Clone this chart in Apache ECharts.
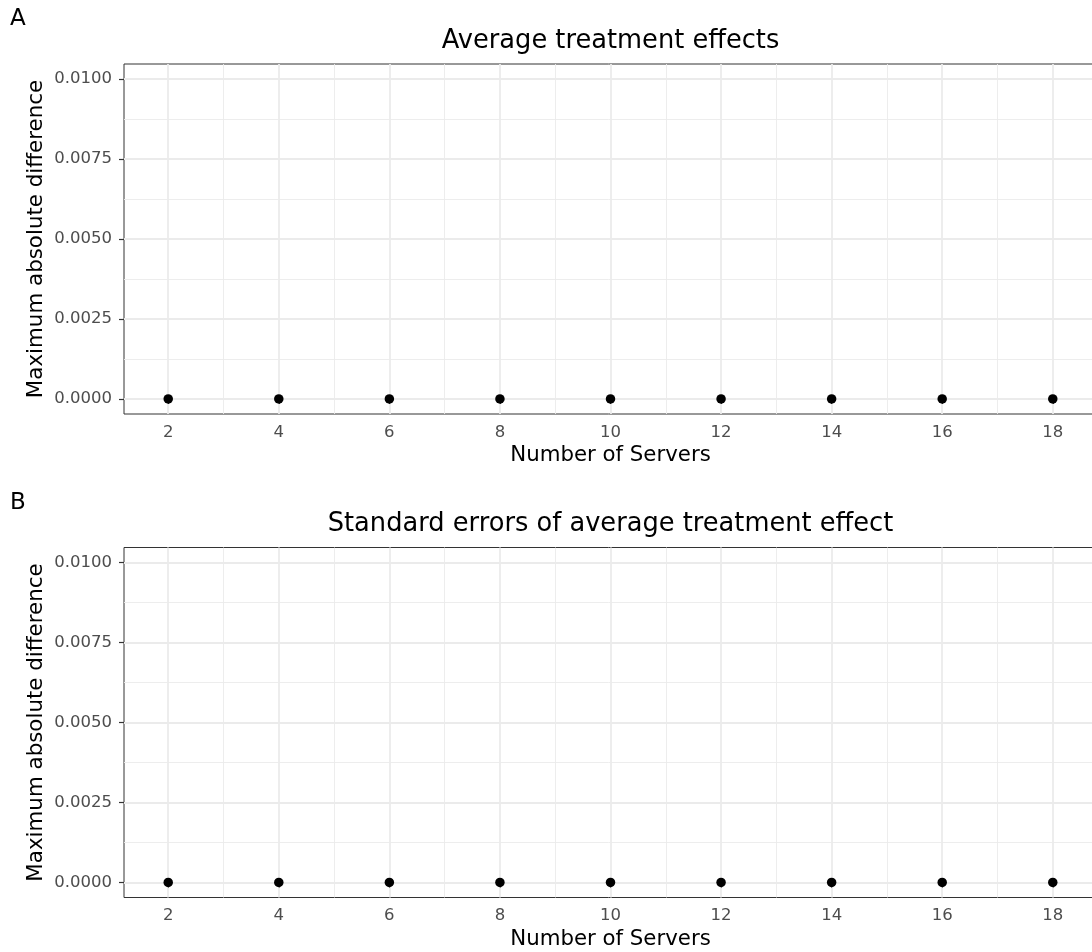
<!DOCTYPE html>
<html>
<head>
<meta charset="utf-8">
<script src="https://cdn.jsdelivr.net/npm/echarts@6/dist/echarts.min.js"></script>
<style>
  html, body { margin: 0; padding: 0; background: #fff; }
  #chart { width: 1092px; height: 952px; }
</style>
</head>
<body>
<div id="chart"></div>
<script>
// data
const servers = [2, 4, 6, 8, 10, 12, 14, 16, 18]
const ateDiff = [0, 0, 0, 0, 0, 0, 0, 0, 0]
const seDiff = [0, 0, 0, 0, 0, 0, 0, 0, 0]

// ticks
const xTicks = [2, 4, 6, 8, 10, 12, 14, 16, 18]
const xMinor = [3, 5, 7, 9, 11, 13, 15, 17]
const yTicks = [0, 0.0025, 0.005, 0.0075, 0.01]
const yMinor = [0.00125, 0.00375, 0.00625, 0.00875]

const panelTitles = ['Average treatment effects', 'Standard errors of average treatment effect']
const tags = ['A', 'B']
const panelData = [ateDiff, seDiff]

const FONT = 'DejaVu Sans'
const panelTops = [64, 547.5]
const panelLeft = 124
const panelWidth = 973
const panelHeight = 350

const grid = []
const xAxis = []
const yAxis = []
const series = []
const title = []

panelTops.forEach((top, i) => {
  grid.push({
    left: panelLeft,
    top,
    width: panelWidth,
    height: panelHeight,
    outerBoundsMode: 'none',
    show: true,
    borderColor: '#333333',
    borderWidth: 1,
    backgroundColor: 'transparent'
  })

  // 主刻度轴
  xAxis.push({
    type: 'value',
    gridIndex: i,
    min: 1.2,
    max: 18.8,
    name: 'Number of Servers',
    nameLocation: 'middle',
    nameGap: 31,
    nameMoveOverlap: false,
    nameTextStyle: { fontFamily: FONT, fontSize: 21.3, color: '#000' },
    axisLine: { show: false },
    axisTick: { show: true, length: 5, customValues: xTicks, lineStyle: { color: '#333', width: 1.2 } },
    axisLabel: { customValues: xTicks, margin: 10, fontFamily: FONT, fontSize: 16.5, color: '#4D4D4D' },
    splitLine: { show: true, lineStyle: { color: '#EBEBEB', width: 1.8 } }
  })
  // 次网格线
  xAxis.push({
    type: 'value',
    gridIndex: i,
    min: 1.2,
    max: 18.8,
    axisLine: { show: false },
    axisTick: { show: false, customValues: xMinor },
    axisLabel: { show: false, customValues: xMinor },
    splitLine: { show: true, lineStyle: { color: '#EBEBEB', width: 0.9 } }
  })

  yAxis.push({
    type: 'value',
    gridIndex: i,
    min: -0.00047,
    max: 0.01047,
    name: 'Maximum absolute difference',
    nameLocation: 'middle',
    nameGap: 77,
    nameMoveOverlap: false,
    nameTextStyle: { fontFamily: FONT, fontSize: 21.4, color: '#000' },
    axisLine: { show: false },
    axisTick: { show: true, length: 5, customValues: yTicks, lineStyle: { color: '#333', width: 1.2 } },
    axisLabel: {
      customValues: yTicks,
      margin: 12,
      fontFamily: FONT,
      fontSize: 16.5,
      color: '#4D4D4D',
      formatter: v => v.toFixed(4)
    },
    splitLine: { show: true, lineStyle: { color: '#EBEBEB', width: 1.8 } }
  })
  yAxis.push({
    type: 'value',
    gridIndex: i,
    min: -0.00047,
    max: 0.01047,
    axisLine: { show: false },
    axisTick: { show: false, customValues: yMinor },
    axisLabel: { show: false, customValues: yMinor },
    splitLine: { show: true, lineStyle: { color: '#EBEBEB', width: 0.9 } }
  })

  series.push({
    type: 'scatter',
    xAxisIndex: i * 2,
    yAxisIndex: i * 2,
    symbolSize: 9.5,
    itemStyle: { color: '#000', opacity: 1 },
    data: servers.map((s, k) => [s, panelData[i][k]]),
    z: 5
  })

  title.push({
    text: panelTitles[i],
    left: panelLeft + panelWidth / 2,
    textAlign: 'center',
    top: top - 36,
    padding: 0,
    textStyle: { fontFamily: FONT, fontSize: 25.7, fontWeight: 'normal', color: '#000' }
  })
  title.push({
    text: tags[i],
    left: 10,
    top: top - 56,
    padding: 0,
    textStyle: { fontFamily: FONT, fontSize: 23, fontWeight: 'normal', color: '#000' }
  })
})

const myChart = echarts.init(document.getElementById('chart'), null, { renderer: 'canvas' })
myChart.setOption({
  animation: false,
  backgroundColor: '#fff',
  title,
  grid,
  xAxis,
  yAxis,
  series
})
</script>
</body>
</html>
